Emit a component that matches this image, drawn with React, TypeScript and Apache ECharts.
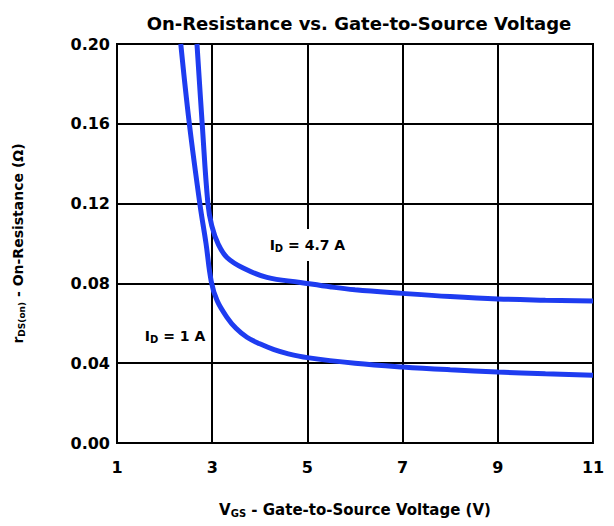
import React, { useEffect, useRef } from "react";
import * as echarts from "echarts";

// Gate-to-source voltage (V) and on-resistance (ohm)
const vgs1A = [2.34, 2.52, 2.74, 2.87, 2.98, 3.1, 3.31, 3.5, 3.73, 4.0, 4.3, 4.6, 5.0, 6.0, 7.0, 8.0, 9.0, 10.0, 11.0];
const rds1A = [0.2, 0.16, 0.12, 0.1, 0.081, 0.0715, 0.063, 0.0575, 0.053, 0.0497, 0.0468, 0.0447, 0.0428, 0.0400, 0.0381, 0.0367, 0.0356, 0.0347, 0.034];

const vgs47A = [2.68, 2.79, 2.91, 2.99, 3.13, 3.31, 3.65, 4.15, 4.85, 5.5, 6.0, 7.0, 8.0, 9.0, 10.0, 11.0];
const rds47A = [0.2, 0.16, 0.12, 0.109, 0.0995, 0.093, 0.0877, 0.083, 0.0805, 0.0782, 0.0768, 0.075, 0.0734, 0.0722, 0.0716, 0.0712];

const xTicksStart = 1; // x axis ticks: 1, 3, 5, 7, 9, 11
const xMax = 11;
const xStep = 2;
const yTicks = [0, 0.04, 0.08, 0.12, 0.16, 0.2];

const label47Pos = [5.0, 0.0992];
const label1Pos = [2.22, 0.0536];

const FONT = "DejaVu Sans";
const BLUE = "#1e3cf0";

export default function App() {
  const ref = useRef<HTMLDivElement>(null);
  useEffect(() => {
    if (!ref.current) return;
    const chart = echarts.init(ref.current, null, { renderer: "svg" });
    const shift = (v: number) => v - xTicksStart;
    const sub = { fontSize: 10, fontWeight: "bold", fontFamily: FONT, verticalAlign: "bottom", lineHeight: 12, color: "#000" };
    const main = { fontSize: 14, fontWeight: "bold", fontFamily: FONT, lineHeight: 16, color: "#000" };
    const mkLabel = (pos: number[], text: string) => ({
      symbol: "circle",
      symbolSize: 0,
      data: [
        {
          coord: [shift(pos[0]), pos[1]],
          label: {
            show: true,
            position: "inside",
            formatter: text,
            backgroundColor: "#fff",
            padding: [8, 3, 8, 3],
            rich: { m: main, s: sub },
          },
        },
      ],
    });
    chart.setOption({
      animation: false,
      title: {
        text: "On-Resistance vs. Gate-to-Source Voltage",
        left: 354,
        textAlign: "center",
        top: 9,
        textStyle: { fontFamily: FONT, fontWeight: "bold", fontSize: 18, color: "#000" },
      },
      grid: {
        left: 117,
        right: 21,
        top: 44,
        bottom: 83,
        show: true,
        borderColor: "#000",
        borderWidth: 2,
      },
      xAxis: {
        type: "value",
        min: 0,
        max: shift(xMax),
        interval: xStep,
        name: "{m|V}{s|GS}{m| - Gate-to-Source Voltage (V)}",
        nameLocation: "middle",
        nameGap: 58,
        nameTextStyle: {
          rich: {
            m: { fontSize: 15, fontWeight: "bold", fontFamily: FONT, lineHeight: 17, color: "#000" },
            s: { fontSize: 10, fontWeight: "bold", fontFamily: FONT, verticalAlign: "bottom", lineHeight: 13, color: "#000" },
          },
        },
        axisLine: { lineStyle: { color: "#000", width: 2 } },
        axisTick: { show: false },
        axisLabel: {
          margin: 16,
          formatter: (v: number) => String(v + xTicksStart),
          fontFamily: FONT,
          fontWeight: "bold",
          fontSize: 16,
          color: "#000",
        },
        splitLine: { show: true, lineStyle: { color: "#000", width: 2 } },
      },
      yAxis: {
        type: "value",
        min: yTicks[0],
        max: yTicks[yTicks.length - 1],
        interval: yTicks[1] - yTicks[0],
        name: "{m|r}{s|DS(on)}{m| - On-Resistance (Ω)}",
        nameLocation: "middle",
        nameGap: 91,
        nameTextStyle: {
          rich: {
            m: { fontSize: 14, fontWeight: "bold", fontFamily: FONT, lineHeight: 16, color: "#000" },
            s: { fontSize: 9, fontWeight: "bold", fontFamily: FONT, verticalAlign: "bottom", lineHeight: 12, color: "#000" },
          },
        },
        axisLine: { show: true, lineStyle: { color: "#000", width: 2 } },
        axisTick: { show: false },
        axisLabel: {
          margin: 7,
          formatter: (v: number) => v.toFixed(2),
          fontFamily: FONT,
          fontWeight: "bold",
          fontSize: 16,
          color: "#000",
        },
        splitLine: { show: true, lineStyle: { color: "#000", width: 2 } },
      },
      series: [
        {
          type: "line",
          name: "ID = 4.7 A",
          data: vgs47A.map((v, i) => [shift(v), rds47A[i]]),
          smooth: 0.4,
          showSymbol: false,
          lineStyle: { color: BLUE, width: 5 },
          z: 3,
          markPoint: mkLabel(label47Pos, "{m|I}{s|D}{m| = 4.7 A}"),
        },
        {
          type: "line",
          name: "ID = 1 A",
          data: vgs1A.map((v, i) => [shift(v), rds1A[i]]),
          smooth: 0.4,
          showSymbol: false,
          lineStyle: { color: BLUE, width: 5 },
          z: 3,
          markPoint: mkLabel(label1Pos, "{m|I}{s|D}{m| = 1 A}"),
        },
      ],
    });
    return () => chart.dispose();
  }, []);
  return <div ref={ref} style={{ position: "absolute", left: 0, top: 0, width: 614, height: 526 }} />;
}
